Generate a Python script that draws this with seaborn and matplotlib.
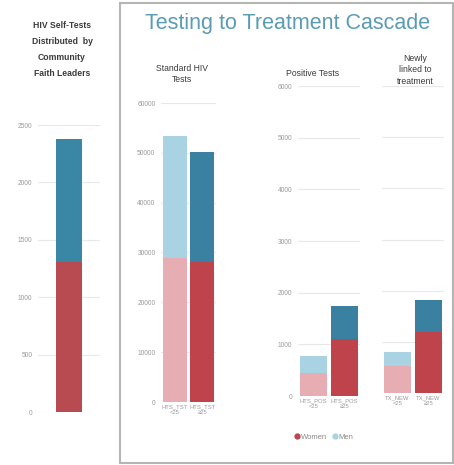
import matplotlib
matplotlib.use("Agg")
import matplotlib.pyplot as plt
from matplotlib.patches import Rectangle
from matplotlib.lines import Line2D
import seaborn as sns
import pandas as pd

sns.set_theme(style="white")
plt.rcParams['font.family'] = ['Liberation Sans', 'DejaVu Sans']

# ---- data ----
selftest_cats = ["HIV Self-Tests"]
selftest_women = [1310]
selftest_men = [1070]

hts_cats = ["HTS_TST\n<25", "HTS_TST\n≥25"]
hts_women = [28900, 28100]
hts_men = [24500, 22100]

pos_cats = ["HTS_POS\n<25", "HTS_POS\n≥25"]
pos_women = [440, 1100]
pos_men = [330, 650]

tx_cats = ["TX_NEW\n<25", "TX_NEW\n≥25"]
tx_women = [520, 1190]
tx_men = [290, 620]

W, H = 454, 465
fig = plt.figure(figsize=(W / 100, H / 100), dpi=100)
fig.patch.set_facecolor("white")

def add_ax(x0, x1, ybot, ytop):
    return fig.add_axes([x0 / W, (H - ybot) / H, (x1 - x0) / W, (ybot - ytop) / H])

TICK_COL = "#9a9a9a"
GRID_COL = "#e8e8e8"

def style(ax, ymax, step, show_y=True):
    ax.set_ylim(0, ymax)
    ax.set_yticks(range(0, ymax + 1, step))
    ax.grid(axis="y", color=GRID_COL, lw=0.8)
    ax.set_axisbelow(True)
    for s in ax.spines.values():
        s.set_visible(False)
    ax.tick_params(axis="both", length=0, labelsize=4.8, labelcolor=TICK_COL, pad=4)
    ax.set_xlabel("")
    ax.set_ylabel("")
    if not show_y:
        ax.set_yticklabels([])

def stacked(ax, cats, women, men, wcols, mcols, width):
    totals = [w + m for w, m in zip(women, men)]
    df = pd.DataFrame({"cat": cats, "total": totals, "women": women})
    sns.barplot(data=df, x="cat", y="total", hue="cat", palette=mcols,
                width=width, legend=False, ax=ax, saturation=1, linewidth=0)
    sns.barplot(data=df, x="cat", y="women", hue="cat", palette=wcols,
                width=width, legend=False, ax=ax, saturation=1, linewidth=0)
    ax.set_xlim(-0.5, len(cats) - 0.5)

# left panel
ax0 = add_ax(38, 100, 412, 125)
stacked(ax0, selftest_cats, selftest_women, selftest_men,
        ["#b84a52"], ["#3a86a5"], 0.42)
style(ax0, 2500, 500)
ax0.set_xticklabels([""])

# standard HIV tests
ax1 = add_ax(161, 216, 402, 103)
stacked(ax1, hts_cats, hts_women, hts_men,
        ["#e6aeb3", "#bf434b"], ["#a9d3e2", "#3a80a0"], 0.87)
style(ax1, 60000, 10000)

# positive tests
ax2 = add_ax(298, 360, 396, 86)
stacked(ax2, pos_cats, pos_women, pos_men,
        ["#e6aeb3", "#bf434b"], ["#a9d3e2", "#3a80a0"], 0.84)
style(ax2, 6000, 1000)

# newly linked
ax3 = add_ax(382, 444, 393, 86)
stacked(ax3, tx_cats, tx_women, tx_men,
        ["#e6aeb3", "#bf434b"], ["#a9d3e2", "#3a80a0"], 0.87)
style(ax3, 6000, 1000, show_y=False)

for ax in (ax1, ax2, ax3):
    ax.tick_params(axis="x", pad=2)
    for lab in ax.get_xticklabels():
        lab.set_fontsize(4.2)
        lab.set_linespacing(1.1)

# frame
fig.patches.append(Rectangle((120 / W, (H - 463) / H), 333 / W, 460 / H,
                             transform=fig.transFigure, fill=False,
                             edgecolor="#b5b5b5", lw=1.5))

def ftext(x, y, s, **kw):
    fig.text(x / W, (H - y) / H, s, ha="center", va="center", **kw)

ftext(288, 23, "Testing to Treatment Cascade", fontsize=15.5, color="#5a9cb3")
ftext(62, 50, "HIV Self-Tests\nDistributed  by\nCommunity\nFaith Leaders",
      fontsize=6.2, fontweight="bold", color="#3a3a3a", linespacing=2.0,
      fontstretch="condensed")
ftext(182, 74, "Standard HIV\nTests", fontsize=6.2, color="#3a3a3a", linespacing=1.4)
ftext(313, 74, "Positive Tests", fontsize=6.2, color="#3a3a3a")
ftext(415, 70, "Newly\nlinked to\ntreatment", fontsize=6.2, color="#3a3a3a", linespacing=1.3)

handles = [Line2D([], [], marker="o", ls="", color="#bf434b", markersize=3.5),
           Line2D([], [], marker="o", ls="", color="#a9d3e2", markersize=3.5)]
fig.legend(handles, ["Women", "Men"], loc="center left",
           bbox_to_anchor=(287 / W, (H - 437) / H), ncol=2, frameon=False,
           fontsize=5.5, labelcolor="#8a8a8a", handletextpad=0.1,
           columnspacing=0.6, handlelength=0.8)

fig.savefig("out.png", dpi=100, facecolor="white")
